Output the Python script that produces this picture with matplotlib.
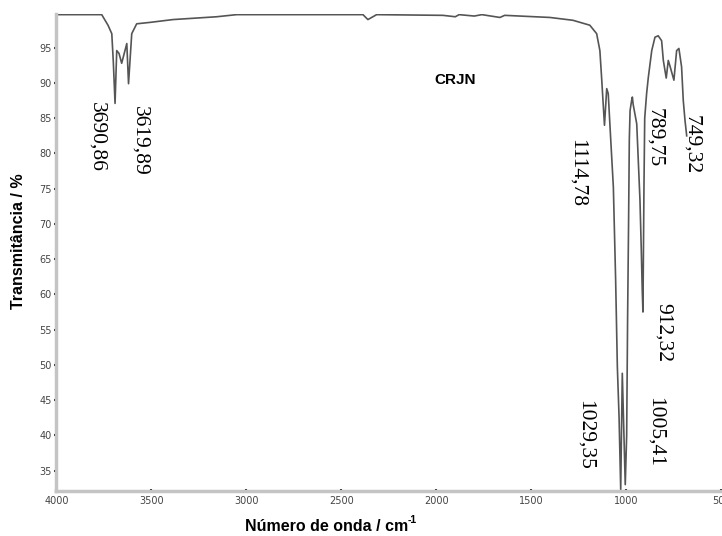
import numpy as np
import matplotlib
matplotlib.use("Agg")
import matplotlib.pyplot as plt
from matplotlib.ticker import MultipleLocator

# FTIR spectrum of sample CRJN (wavenumber in cm-1, transmittance in %)
wavenumber = [4000, 3761, 3728, 3708, 3700, 3690.86, 3682, 3670, 3656, 3629,
              3619.89, 3603, 3577, 3507, 3386, 3156, 3051, 2386, 2360, 2314,
              1965, 1900, 1880, 1800, 1760, 1665, 1640, 1402, 1281, 1192,
              1156, 1139, 1130, 1114.78, 1103, 1095, 1086, 1068, 1056, 1047,
              1038, 1029.35, 1021, 1005.41, 998, 993, 988, 984, 980, 972,
              968, 964, 945, 928, 921, 916, 912.32, 907, 903, 893,
              884, 866, 849, 832, 814, 805, 789.75, 779, 770, 749.32,
              735, 723, 709, 700, 691, 682]
transmittance = [99.7, 99.7, 98.2, 97.0, 93.0, 87.1, 94.6, 94.2, 92.8, 95.6,
                 89.9, 97.0, 98.4, 98.6, 99.0, 99.4, 99.7, 99.7, 99.0, 99.7,
                 99.6, 99.4, 99.7, 99.5, 99.7, 99.3, 99.6, 99.3, 98.9, 98.2,
                 97.0, 94.6, 90.8, 84.0, 89.2, 88.5, 84.0, 75.2, 62.0, 49.7,
                 42.6, 32.3, 48.8, 33.0, 40.0, 56.8, 70.0, 82.0, 86.1, 87.5,
                 88.0, 87.0, 84.2, 73.4, 66.3, 60.6, 57.5, 75.0, 85.0, 88.5,
                 90.8, 94.6, 96.5, 96.7, 96.0, 93.2, 90.7, 93.2, 92.4, 90.4,
                 94.6, 94.9, 92.3, 87.5, 84.7, 82.5]

# marked bands and where their labels sit (wavenumber, transmittance of the label top)
band_labels = ["3690,86", "3619,89", "1114,78", "789,75", "749,32",
               "912,32", "1005,41", "1029,35"]
label_x = [3787, 3559, 1261, 849, 656, 805, 849, 1217]
label_y = [87.3, 86.7, 82.1, 86.4, 85.4, 58.8, 45.5, 45.0]

fig = plt.figure(figsize=(7.22, 5.36), dpi=100)
ax = fig.add_axes([0.078, 0.084, 0.921, 0.890])

ax.plot(wavenumber, transmittance, color="#555555", lw=1.2)

ax.set_xlim(4000, 500)
ax.set_ylim(32.1, 99.8)
ax.xaxis.set_major_locator(MultipleLocator(500))
ax.yaxis.set_minor_locator(MultipleLocator(1))
ax.set_yticks(np.arange(35, 100, 5))

for side in ("top", "right"):
    ax.spines[side].set_visible(False)
for side in ("left", "bottom"):
    ax.spines[side].set_color("#c4c4c4")
    ax.spines[side].set_linewidth(2.5)

ax.tick_params(which="both", direction="inout", color="#222222",
               labelsize=7, labelcolor="#444444", pad=2)
ax.tick_params(which="major", length=3, width=1.5)
ax.tick_params(which="minor", length=1.5, width=1.2)

for txt, x, y in zip(band_labels, label_x, label_y):
    ax.text(x, y, txt, rotation=270, ha="center", va="top",
            family="Liberation Serif", fontsize=15.5, color="black")

ax.text(1902, 90.4, "CRJN", ha="center", va="center", fontsize=11,
        fontweight="bold", family="Liberation Sans")

fig.text(0.026, 0.55, "Transmitância / %", rotation=90, ha="center",
         va="center", fontsize=11.5, fontweight="bold", family="Liberation Sans")
xl = fig.text(0.452, 0.017, "Número de onda / cm", ha="center",
              va="center", fontsize=11.5, fontweight="bold", family="Liberation Sans")
# superscript glued to the end of the axis title
ax.annotate("-1", xy=(1.0, 0.62), xycoords=xl, ha="left", va="bottom",
            fontsize=7.5, fontweight="bold", family="Liberation Sans",
            annotation_clip=False)

fig.savefig("out.png", dpi=100)
